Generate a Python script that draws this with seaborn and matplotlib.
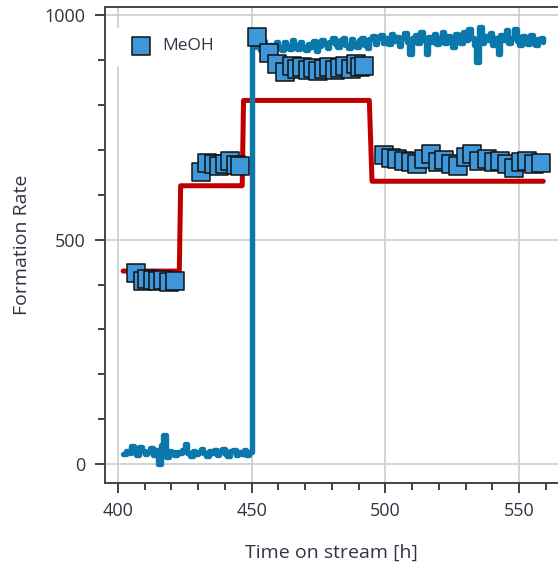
import numpy as np
import pandas as pd
import matplotlib
matplotlib.use("Agg")
import matplotlib.pyplot as plt
import seaborn as sns

# online signal (blue line), one reading per hour from 402 h to 559 h
online_start = 402
online_rate = [
    22, 30, 25, 40, 30, 20, 38, 30, 22, 28,
    35, 20, 32, 0, 42, 64, 16, 30, 26, 20,
    28, 24, 32, 44, 24, 18, 30, 22, 26, 34,
    24, 18, 30, 24, 32, 20, 28, 34, 22, 18,
    30, 32, 20, 26, 22, 32, 20, 28,
    928, 940, 930, 922, 942, 930, 920, 934, 926, 940,
    930, 922, 940, 932, 924, 944, 934, 924, 940, 930,
    922, 936, 928, 942, 920, 932, 944, 936, 926, 940,
    948, 936, 928, 944, 950, 934, 926, 946, 938, 930,
    944, 950, 934, 926, 946, 954, 936, 948, 956, 938,
    950, 936, 958, 942, 952, 932, 948, 960, 940, 914,
    950, 956, 938, 962, 944, 914, 952, 940, 958, 936,
    950, 962, 938, 954, 944, 930, 958, 948, 938, 962,
    944, 968, 950, 934, 896, 974, 938, 954, 944, 960,
    934, 950, 914, 956, 944, 966, 938, 950, 970, 942,
    934, 954, 944, 936, 956, 946, 934, 946, 950, 940,
]
online_time = np.arange(online_start, online_start + len(online_rate))

# step profile (red line)
step_time = [402, 423, 423.5, 446.5, 447, 494, 495, 559]
step_rate = [430, 430, 620, 620, 810, 810, 630, 630]

# MeOH measurements (squares)
meoh_time = [
    407, 409.5, 411, 413, 415, 417, 419, 421.5,
    431, 433.5, 436, 438, 440, 442, 444, 445.5,
    452, 456.5, 459.5, 462.5, 465, 467, 469, 471, 473, 475,
    477, 479, 481, 483, 485, 487, 489, 490.5, 492,
    499.5, 502, 504.5, 507, 509.5, 512, 514.5, 517, 519.5, 522,
    524.5, 527, 530, 532.5, 535, 538, 540.5, 543, 545.5, 548,
    550.5, 553, 555.5, 558,
]
meoh_rate = [
    425, 408, 412, 410, 407, 409, 406, 407,
    651, 671, 668, 664, 668, 674, 666, 664,
    951, 916, 892, 873, 886, 880, 884, 878, 882, 876,
    880, 884, 878, 882, 886, 880, 890, 884, 886,
    688, 682, 679, 676, 672, 668, 680, 690, 672, 678,
    668, 664, 684, 690, 676, 680, 672, 676, 668, 660,
    672, 676, 668, 670,
]

sns.set_style("ticks")
plt.rcParams["font.family"] = ["Open Sans", "DejaVu Sans"]
text_color = "#333344"

fig = plt.figure(figsize=(5.58, 5.66), dpi=100)
ax = fig.add_axes([0.188, 0.1466, 0.812, 0.841])

# red step first, blue signal on top, then the squares
sns.lineplot(x=step_time, y=step_rate, ax=ax, color="#c00000", linewidth=3.6,
             sort=False, estimator=None, zorder=3)
ax.lines[-1].set_solid_joinstyle("round")
sns.lineplot(x=online_time, y=online_rate, ax=ax, color="#0a78aa", linewidth=3.9,
             sort=False, estimator=None, drawstyle="steps-post", zorder=4)
sns.scatterplot(x=meoh_time, y=meoh_rate, ax=ax, marker="s", s=180,
                color="#3d97d8", edgecolor="#111111", linewidth=1.1,
                label="MeOH", zorder=5)

ax.set_xlim(395.2, 564.5)
ax.set_ylim(-42, 1018)
ax.set_xticks([400, 450, 500, 550])
ax.set_yticks([0, 500, 1000])
ax.set_xticks(np.arange(400, 565, 10), minor=True)
ax.set_yticks(np.arange(0, 1001, 100), minor=True)
ax.grid(True, which="major", color="#cccccc", linewidth=1.2)
ax.set_axisbelow(True)

ax.tick_params(which="major", direction="out", length=7, width=1.3,
               color="#333333", labelsize=13, labelcolor=text_color, pad=7)
ax.tick_params(which="minor", direction="out", length=5, width=1.3, color="#333333")

for side in ["left", "bottom", "top"]:
    ax.spines[side].set_color("#444444")
    ax.spines[side].set_linewidth(1.4)
ax.spines["right"].set_visible(False)

ax.set_xlabel("Time on stream [h]", fontsize=14, color=text_color, labelpad=17)
ax.set_ylabel("Formation Rate", fontsize=14, color=text_color, labelpad=10)

leg = ax.legend(loc="upper left", bbox_to_anchor=(0.0, 0.975), frameon=True,
                fancybox=False, framealpha=1, edgecolor="white", fontsize=12.5,
                handletextpad=0.2, borderpad=0.6, markerscale=1.0)
for t in leg.get_texts():
    t.set_color(text_color)

fig.savefig("out.png", dpi=100)
